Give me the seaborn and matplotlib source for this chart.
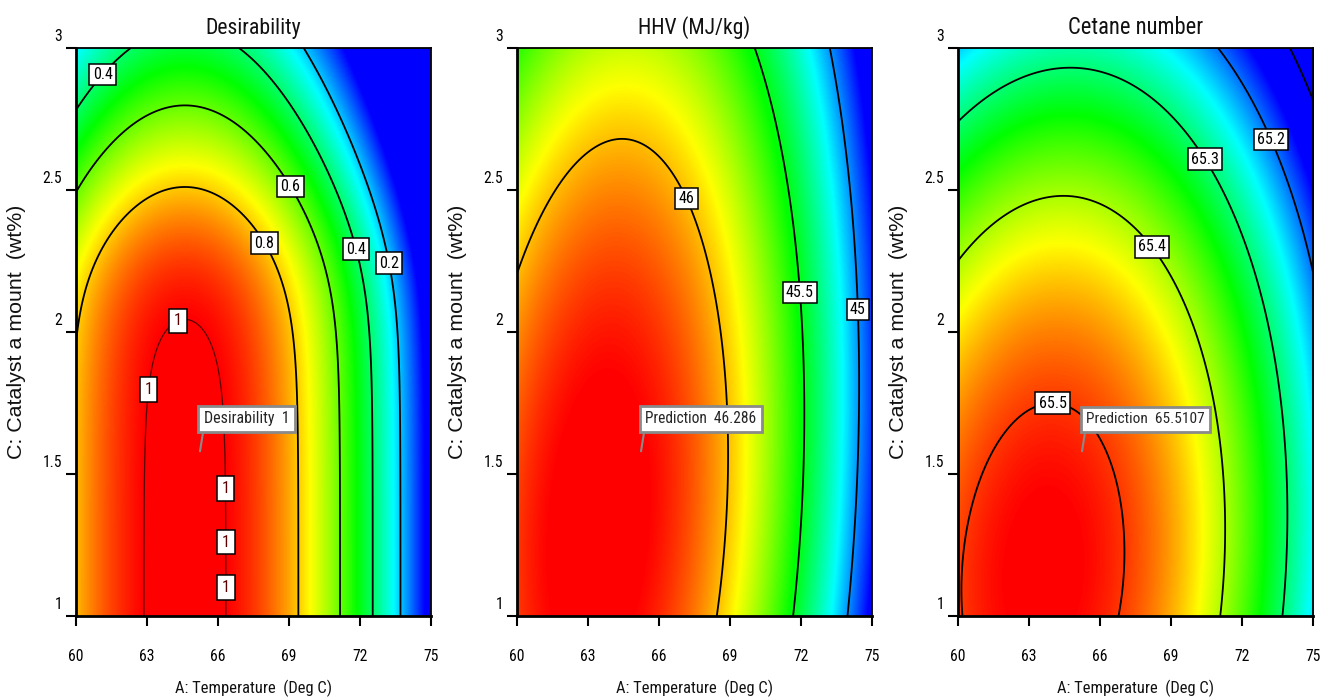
import numpy as np
import matplotlib
matplotlib.use('Agg')
import matplotlib.pyplot as plt
import matplotlib.transforms as mtransforms
from matplotlib.colors import LinearSegmentedColormap
from matplotlib import font_manager as fm
from matplotlib.textpath import TextPath
from matplotlib.font_manager import FontProperties
import seaborn as sns

# ---------------- data ----------------
TEMP_TICKS = [60, 63, 66, 69, 72, 75]
CAT_TICKS = [1, 1.5, 2, 2.5, 3]
CAT_TICK_LABELS = ['1', '1.5', '2', '2.5', '3']
PANEL_TITLES = ['Desirability', 'HHV (MJ/kg)', 'Cetane number']
X_LABEL = 'A: Temperature  (Deg C)'
Y_LABEL = 'C: Catalyst a mount  (wt%)'

# optimum (flag) point and its predicted values
OPT_TEMP = 65.24
OPT_CAT = 1.58
FLAG_TEXTS = ['Desirability  1', 'Prediction  46.286', 'Prediction  65.5107']

# Desirability surface, estimated from where its contour lines lie
DES_PEAK = 1.03          # raw desirability on the plateau (shown clipped at 1)
DES_TEMP_OPT = 64.6      # temperature of the ridge
DES_TEMP_CURV = 0.0100   # fall per (deg C)^2 away from the ridge
DES_CAT_KNEE = 2.22      # catalyst amount above which desirability falls
DES_CAT_SOFT = 0.15      # softness of that knee
DES_CAT_SLOPE = 0.74     # fall per wt% above the knee

# HHV (MJ/kg): points read on each contour line
HHV_LEVELS = [46.286, 46.0, 45.5, 45.0]
HHV_X = [[65.24],
         [60.0, 64.44, 67.3, 68.58, 68.83, 68.5],
         [70.06, 71.96, 72.08, 72.17, 71.66],
         [73.2, 74.4, 73.94]]
HHV_Y = [[1.58],
         [2.21, 2.67, 2.475, 1.94, 1.5, 1.0],
         [3.0, 2.14, 1.97, 1.5, 1.0],
         [3.0, 2.08, 1.0]]

# Cetane number: points read on each contour line
CET_LEVELS = [65.5107, 65.5, 65.4, 65.3, 65.2, 65.1]
CET_X = [[65.24],
         [60.3, 60.5, 64.0, 66.8, 66.7],
         [60.0, 64.5, 68.5, 70.0, 70.8, 70.7],
         [60.0, 64.6, 68.1, 70.65, 73.3, 74.1, 74.0],
         [71.07, 73.3, 75.0],
         [74.03, 75.0]]
CET_Y = [[1.58],
         [1.0, 1.5, 1.77, 1.5, 1.0],
         [2.24, 2.49, 2.32, 1.94, 1.5, 1.0],
         [2.72, 2.92, 2.83, 2.62, 1.87, 1.5, 1.0],
         [3.0, 2.68, 2.17],
         [3.0, 2.79]]

# colour-scale range of each panel (blue -> red)
DES_RANGE = [0.0, 1.0]
HHV_RANGE = [44.78, 46.28]
CET_RANGE = [65.16, 65.52]

# contour lines drawn on each panel
DES_LINES = [0.2, 0.4, 0.6, 0.8]
HHV_LINES = [45.0, 45.5, 46.0]
CET_LINES = [65.1, 65.2, 65.3, 65.4, 65.5]

# label placements
DES_LABEL_POS = [(60.8, 2.93), (69.4, 2.53), (67.7, 2.30), (72.2, 2.30), (73.7, 2.25)]
DES_ONE_POS = [(62.8, 1.80), (64.0, 2.10), (66.4, 1.45), (66.4, 1.26), (66.4, 1.10)]
HHV_LABEL_POS = [(67.3, 2.475), (71.96, 2.14), (74.4, 2.08)]
CET_LABEL_POS = [(64.0, 1.78), (68.5, 2.32), (70.65, 2.62), (73.3, 2.68)]


# ---------------- response surfaces ----------------
gx = np.linspace(60, 75, 500)
gy = np.linspace(1, 3, 500)
GX, GY = np.meshgrid(gx, gy)


def desirability(x, y):
    knee = DES_CAT_SOFT * np.logaddexp(0.0, (y - DES_CAT_KNEE) / DES_CAT_SOFT)
    return DES_PEAK - DES_TEMP_CURV * (x - DES_TEMP_OPT) ** 2 - DES_CAT_SLOPE * knee


def design_quad(x, y):
    X = (np.asarray(x, float) - 67.5) / 7.5
    Y = np.asarray(y, float) - 2.0
    return np.stack([np.ones_like(X), X, Y, X * X, Y * Y, X * Y], axis=-1)


def quad_surface(levels, xs, ys):
    px, py, pz = [], [], []
    for lv, xx, yy in zip(levels, xs, ys):
        px += list(xx)
        py += list(yy)
        pz += [lv] * len(xx)
    coef, *_ = np.linalg.lstsq(design_quad(px, py), np.asarray(pz), rcond=None)
    return design_quad(GX, GY) @ coef


Z_DES = desirability(GX, GY)
Z_HHV = quad_surface(HHV_LEVELS, HHV_X, HHV_Y)
Z_CET = quad_surface(CET_LEVELS, CET_X, CET_Y)

# ---------------- fonts ----------------
sns.set_theme(style='white')
names = {f.name for f in fm.fontManager.ttflist}
narrow = None
for cand in ['Liberation Sans Narrow', 'Noto Sans ExtraCondensed', 'Noto Sans Condensed',
             'Roboto Condensed', 'Open Sans Condensed', 'Noto Sans SemiCondensed',
             'DejaVu Sans Condensed', 'Open Sans SemiCondensed']:
    if cand in names:
        narrow = cand
        break
if narrow is None:
    narrow = 'Liberation Sans'
NARROW = [narrow, 'DejaVu Sans']
WIDE = ['Liberation Sans', 'DejaVu Sans']
plt.rcParams['font.family'] = NARROW


def size_for(text, target_px, family):
    tp = TextPath((0, 0), text, size=10, prop=FontProperties(family=family))
    w = tp.get_extents().width * 100.0 / 72.0
    return 10.0 * target_px / w


TITLE_PX = [94, 110, 133]
FLAG_PX = [82, 110, 117]
fs_tick = size_for('60', 13.5, NARROW)
fs_xlab = size_for(X_LABEL, 155, NARROW)
fs_ylab = size_for(Y_LABEL, 252, WIDE)
fs_clab = size_for('65.3', 26, NARROW)

cmap = LinearSegmentedColormap.from_list(
    'de', ['#0000ff', '#00ffff', '#00ff00', '#ffff00', '#ff0000'])

fig = plt.figure(figsize=(13.2, 7.0), dpi=100)
W, H = 1320.0, 700.0
lefts = [76, 517, 958]
axes = [fig.add_axes([l / W, 1 - 616 / H, 355 / W, 568 / H]) for l in lefts]

panels = [
    (Z_DES, DES_LINES, DES_LABEL_POS, DES_RANGE),
    (Z_HHV, HHV_LINES, HHV_LABEL_POS, HHV_RANGE),
    (Z_CET, CET_LINES, CET_LABEL_POS, CET_RANGE),
]

box = dict(boxstyle='square,pad=0.2', fc='white', ec='black', lw=1.1)

for i, (ax, (Z, lines, lpos, rng)) in enumerate(zip(axes, panels)):
    Zc = np.clip(Z, 0, 1) if i == 0 else Z
    ax.imshow(Zc, extent=[60, 75, 1, 3], origin='lower', aspect='auto',
              cmap=cmap, vmin=rng[0], vmax=rng[1], interpolation='bilinear')
    cs = ax.contour(GX, GY, Z, levels=lines, colors='black', linewidths=1.3)
    labs = ax.clabel(cs, inline=False, fontsize=fs_clab, fmt=lambda v: f'{v:g}',
                     manual=lpos)
    for t in labs:
        t.set_rotation(0)
        t.set_bbox(box)
    if i == 0:
        cs1 = ax.contour(GX, GY, Z, levels=[1.0], colors='#5a0000', linewidths=0.9)
        labs1 = ax.clabel(cs1, inline=False, fontsize=fs_clab, fmt=lambda v: f'{v:g}',
                          manual=DES_ONE_POS)
        for t in labs1:
            t.set_rotation(0)
            t.set_bbox(dict(boxstyle='square,pad=0.3', fc='white', ec='black', lw=1.1))

    ax.annotate(FLAG_TEXTS[i], xy=(OPT_TEMP, OPT_CAT), xytext=(4, 25),
                textcoords='offset pixels', ha='left', va='bottom',
                fontsize=size_for(FLAG_TEXTS[i], FLAG_PX[i], NARROW),
                bbox=dict(boxstyle='square,pad=0.35', fc='white', ec='#8a8a8a', lw=2),
                arrowprops=dict(arrowstyle='-', color='#8a8a8a', lw=1.5,
                                shrinkA=0, shrinkB=0, relpos=(0, 0)))

    ax.set_xlim(60, 75)
    ax.set_ylim(1, 3)
    ax.set_xticks(TEMP_TICKS)
    ax.set_xticklabels([str(t) for t in TEMP_TICKS])
    ax.set_yticks(CAT_TICKS)
    ax.set_yticklabels(CAT_TICK_LABELS)
    ax.tick_params(axis='both', which='both', direction='out', length=7, width=1.5,
                   labelsize=fs_tick, colors='black', bottom=True, left=True, top=False,
                   right=False)
    ax.tick_params(axis='x', pad=17)
    ax.tick_params(axis='y', pad=3)
    off = mtransforms.ScaledTranslation(0, 0.13, fig.dpi_scale_trans)
    for t in ax.get_yticklabels():
        t.set_transform(t.get_transform() + off)
    for s in ax.spines.values():
        s.set_color('black')
        s.set_linewidth(1.3)
    ax.spines['left'].set_linewidth(2)
    ax.spines['bottom'].set_linewidth(2)
    ax.set_title(PANEL_TITLES[i], fontsize=size_for(PANEL_TITLES[i], TITLE_PX[i], NARROW),
                 pad=10, color='#111111')
    ax.set_xlabel(X_LABEL, fontsize=fs_xlab, color='#111111')
    ax.xaxis.set_label_coords(0.5, (616 - 680) / 568.0)
    ax.set_ylabel(Y_LABEL, fontfamily=WIDE, fontsize=fs_ylab, color='#111111')
    ax.yaxis.set_label_coords((26 - lefts[0]) / 355.0, 0.5)
    ax.grid(False)

fig.savefig('out.png', dpi=100, facecolor='white')
